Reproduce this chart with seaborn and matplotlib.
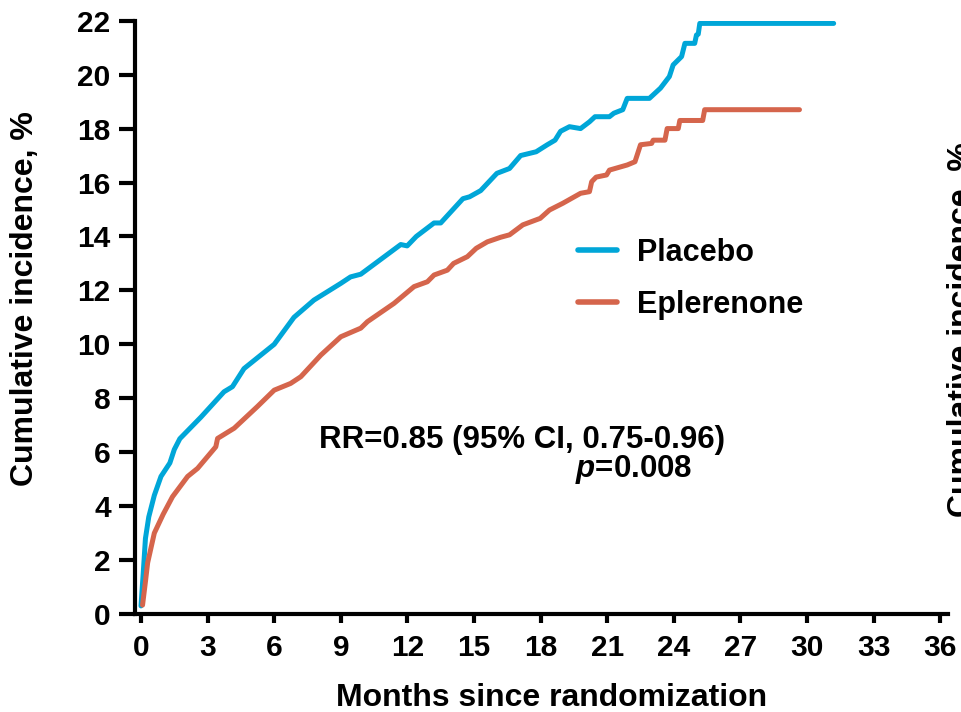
import matplotlib
matplotlib.use("Agg")
import matplotlib.pyplot as plt
import seaborn as sns
import pandas as pd

# ---- data ----
placebo_months = [0.0, 0.1, 0.2, 0.35, 0.6, 0.9, 1.3, 1.5, 1.75, 2.7, 3.74, 4.12, 4.64,
                  6.0, 6.89, 7.79, 9.0, 9.44, 9.9, 11.7, 11.99, 12.4, 13.2, 13.5, 14.5,
                  14.8, 15.3, 16.03, 16.6, 17.1, 17.8, 18.3, 18.65, 18.9, 19.3, 19.8,
                  20.2, 20.45, 21.1, 21.3, 21.7, 21.9, 22.9, 23.4, 23.8, 23.97, 24.35,
                  24.5, 24.94, 25.02, 25.1, 25.17, 31.2]
placebo_values = [0.3, 1.5, 2.8, 3.6, 4.4, 5.1, 5.6, 6.1, 6.5, 7.3, 8.24, 8.43, 9.1,
                  10.0, 11.0, 11.64, 12.26, 12.5, 12.6, 13.7, 13.65, 14.0, 14.5, 14.5, 15.4,
                  15.47, 15.7, 16.34, 16.52, 17.0, 17.14, 17.4, 17.57, 17.9, 18.07, 18.0,
                  18.25, 18.44, 18.44, 18.57, 18.7, 19.12, 19.12, 19.5, 19.93, 20.36, 20.67,
                  21.16, 21.16, 21.47, 21.5, 21.9, 21.9]

eplerenone_months = [0.07, 0.2, 0.3, 0.6, 1.0, 1.42, 2.1, 2.55, 3.37, 3.45, 4.2, 5.24,
                     6.0, 6.74, 7.2, 8.1, 9.0, 9.9, 10.2, 11.4, 12.3, 12.9, 13.2, 13.8,
                     14.08, 14.7, 15.1, 15.6, 16.2, 16.6, 17.2, 17.98, 18.4, 19.0, 19.8,
                     20.2, 20.3, 20.5, 20.97, 21.1, 21.9, 22.25, 22.5, 23.0, 23.07, 23.6,
                     23.7, 24.2, 24.27, 25.3, 25.39, 29.66]
eplerenone_values = [0.33, 1.2, 1.9, 3.0, 3.7, 4.35, 5.1, 5.4, 6.2, 6.51, 6.89, 7.69,
                     8.3, 8.55, 8.8, 9.6, 10.28, 10.6, 10.84, 11.52, 12.14, 12.32, 12.57, 12.75,
                     13.0, 13.25, 13.56, 13.8, 13.97, 14.06, 14.43, 14.67, 14.98, 15.23, 15.6,
                     15.66, 16.03, 16.2, 16.28, 16.46, 16.65, 16.77, 17.4, 17.45, 17.57, 17.57,
                     18.0, 18.0, 18.3, 18.3, 18.7, 18.7]

groups = ["Placebo", "Eplerenone"]
colors = ["#00A6D8", "#D5654C"]
x_ticks = list(range(0, 37, 3))
y_ticks = list(range(0, 23, 2))
x_label = "Months since randomization"
y_label = "Cumulative incidence, %"
rr_text = "RR=0.85 (95% CI, 0.75-0.96)"
p_text = r"$\bfit{p}$=0.008"

df = pd.concat([
    pd.DataFrame({"month": placebo_months, "value": placebo_values, "group": groups[0]}),
    pd.DataFrame({"month": eplerenone_months, "value": eplerenone_values, "group": groups[1]}),
], ignore_index=True)

sns.set_theme(style="ticks")
plt.rcParams["font.family"] = ["Liberation Sans", "DejaVu Sans"]
plt.rcParams["font.weight"] = "bold"
plt.rcParams["text.color"] = "black"
plt.rcParams["axes.labelcolor"] = "black"
plt.rcParams["xtick.color"] = "black"
plt.rcParams["ytick.color"] = "black"
plt.rcParams["mathtext.fontset"] = "custom"
plt.rcParams["mathtext.bfit"] = "Liberation Sans:bold:italic"
plt.rcParams["mathtext.it"] = "Liberation Sans:italic:bold"
plt.rcParams["mathtext.bf"] = "Liberation Sans:bold"
plt.rcParams["mathtext.rm"] = "Liberation Sans:bold"

fig = plt.figure(figsize=(9.61, 7.12), dpi=100)
ax = fig.add_axes([135 / 961, 1 - 614 / 712, (948 - 135) / 961, (614 - 20.7) / 712])

sns.lineplot(data=df, x="month", y="value", hue="group", palette=colors,
             hue_order=groups, sort=False, estimator=None, linewidth=3.6,
             ax=ax, legend=True)

ax.set_xlim(-0.27, 36.35)
ax.set_ylim(0, 22)
ax.set_xticks(x_ticks)
ax.set_yticks(y_ticks)
ax.tick_params(axis="x", length=6.5, width=3, labelsize=21.5, pad=8,
               color="black", labelcolor="black")
ax.tick_params(axis="y", length=11.5, width=3, labelsize=21.5, pad=6,
               color="black", labelcolor="black")
for lab in ax.get_xticklabels() + ax.get_yticklabels():
    lab.set_fontweight("bold")

for s in ["top", "right"]:
    ax.spines[s].set_visible(False)
for s in ["left", "bottom"]:
    ax.spines[s].set_linewidth(3)
    ax.spines[s].set_color("black")

ax.set_xlabel(x_label, fontsize=23, fontweight="bold", color="black")
ax.set_ylabel(y_label, fontsize=23, fontweight="bold", color="black")
ax.xaxis.label.set_va("baseline")
ax.xaxis.set_label_coords((551.7 - 135) / 813, (614 - 706) / 593.3)
ax.yaxis.label.set_va("center")
ax.yaxis.set_label_coords((25.5 - 135) / 813, (614 - 299) / 593.3)

handles, labels = ax.get_legend_handles_labels()
leg = ax.legend(handles, labels, loc="upper left",
                bbox_to_anchor=((578 - 135) / 813, (614 - 238) / 593.3),
                frameon=False, borderpad=0, borderaxespad=0,
                handlelength=1.27, handletextpad=0.65, labelspacing=0.72,
                prop={"size": 22, "weight": "bold"})
for h in leg.get_lines():
    h.set_linewidth(4)
for t in leg.get_texts():
    t.set_color("black")

ax.text(8.0, 6.45, rr_text, fontsize=22.5, fontweight="bold", ha="left",
        va="center", color="black")
ax.text(19.55, 5.34, p_text, fontsize=22.5, fontweight="bold", ha="left",
        va="center", color="black")

# cut-off label of the neighbouring panel at the right edge
fig.text(947 / 961, 1 - 330 / 712, y_label, rotation=90, fontsize=23,
         fontweight="bold", ha="left", va="center", color="black")

fig.savefig("out.png", dpi=100)
